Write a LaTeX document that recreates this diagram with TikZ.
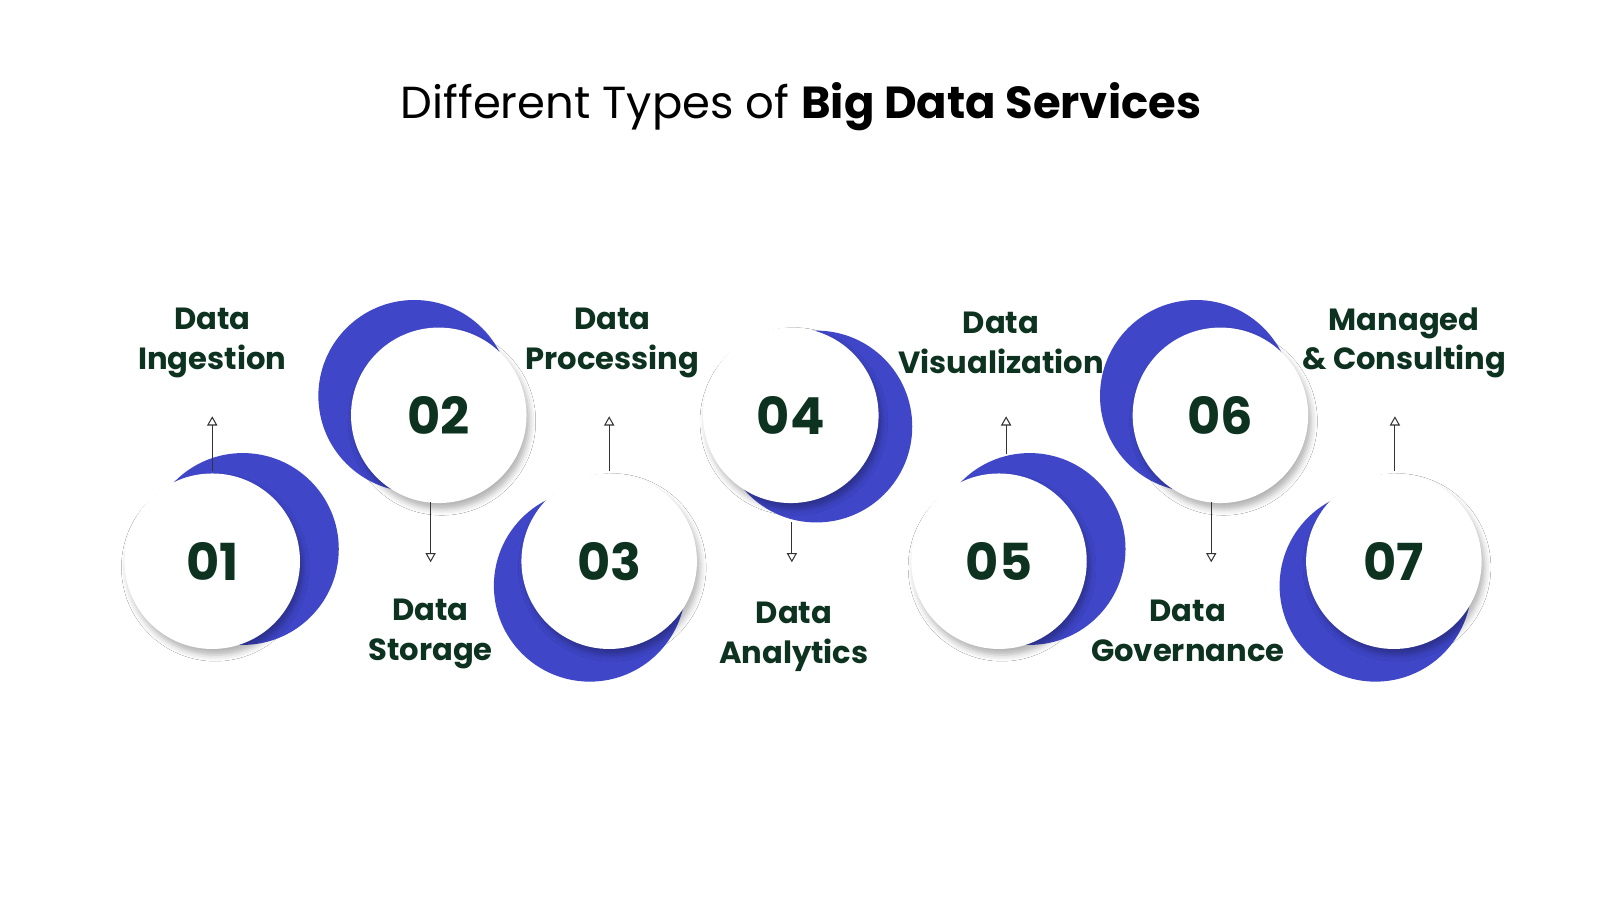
\documentclass[tikz,border=0pt]{standalone}
\usepackage{fontspec}
\setmainfont{Poppins}
\usetikzlibrary{arrows.meta,shadows.blur}
\definecolor{bl}{HTML}{3F46C8}
\definecolor{tg}{HTML}{0D3320}
\tikzset{
 moon/.style={fill=bl,circle,minimum size=188pt,inner sep=0},
 disc/.style={fill=white,circle,minimum size=172pt,inner sep=0,blur shadow={shadow xshift=3pt,shadow yshift=-6pt,shadow blur radius=6pt,shadow opacity=30},text=tg,font=\fontsize{50}{50}\selectfont\bfseries},
 lab/.style={text=tg,font=\fontsize{30}{39}\selectfont\bfseries,align=center},
 arr/.style={draw=black!80,line width=1pt,-{Triangle[open,width=10pt,length=9pt]}}
}
\begin{document}
\begin{tikzpicture}[x=1pt,y=-1pt]
\useasboundingbox[fill=white] (0,0) rectangle (1568,882);
\node[text=black,font=\fontsize{44}{44}\selectfont] (t) at (785,105) {Different Types of \textbf{Big Data Services}};
% moons
\node[moon] (b1) at (238,538) {};
\node[moon] (b2) at (406,388) {};
\node[moon] (b3) at (578,574) {};
\node[moon] (b4) at (800,418) {};
\node[moon] (b5) at (1009,538) {};
\node[moon] (b6) at (1172,388) {};
\node[moon] (b7) at (1348,574) {};
% discs
\node[disc] (c1) at (208,550) {01};
\node[disc] (c2) at (430,407) {02};
\node[disc] (c3) at (597,550) {03};
\node[disc] (c4) at (775,407) {04};
\node[disc] (c5) at (979,550) {05};
\node[disc] (c6) at (1196,407) {06};
\node[disc] (c7) at (1366,550) {07};
% labels
\node[lab] (l1) at (208,336) {Data\\Ingestion};
\node[lab] (l2) at (422,621) {Data\\Storage};
\node[lab] (l3) at (600,336) {Data\\Processing};
\node[lab] (l4) at (778,624) {Data\\Analytics};
\node[lab] (l5) at (981,336) {Data\\Visualization};
\node[lab] (l6) at (1164,618) {Data\\Governance};
\node[lab] (l7) at (1376,336) {Managed\\\& Consulting};
% arrows
\coordinate (a1) at (208,408); \coordinate (s1) at (208,462);
\coordinate (a2) at (422,551); \coordinate (s2) at (422,492);
\coordinate (a3) at (597,408); \coordinate (s3) at (597,462);
\coordinate (a4) at (776,551); \coordinate (s4) at (776,512);
\coordinate (a5) at (986,408); \coordinate (s5) at (986,445);
\coordinate (a6) at (1187,551); \coordinate (s6) at (1187,492);
\coordinate (a7) at (1367,408); \coordinate (s7) at (1367,462);
\foreach \i in {1,...,7}{\draw[arr] (s\i) -- (a\i);}
\end{tikzpicture}
\end{document}
